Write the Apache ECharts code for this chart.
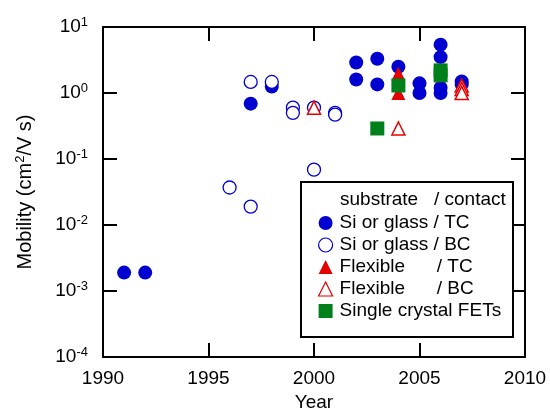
<!DOCTYPE html>
<html>
<head>
<meta charset="utf-8">
<script src="https://cdn.jsdelivr.net/npm/echarts@6/dist/echarts.min.js"></script>
<style>
  html, body { margin: 0; padding: 0; background: #fff; }
  #chart { width: 550px; height: 408px; }
</style>
</head>
<body>
<div id="chart"></div>
<script>
// [year, mobility]
const siGlassTC = [
  [1991, 0.0019], [1992, 0.0019], [1997, 0.69], [1998, 1.25],
  [2002, 2.9], [2002, 1.6], [2003, 3.3], [2003, 1.35], [2004, 2.5],
  [2005, 1.4], [2005, 1.0], [2006, 5.4], [2006, 3.5], [2006, 1.2], [2006, 1.0],
  [2007, 1.5], [2007, 1.35]
];
const siGlassBC = [
  [1996, 0.037], [1997, 0.019], [1997, 1.47], [1998, 1.47],
  [1999, 0.6], [1999, 0.5], [2000, 0.6], [2000, 0.069], [2001, 0.5], [2001, 0.47]
];
const flexibleTC = [[2004, 1.95], [2004, 1.0]];
const flexibleBC = [[2000, 0.6], [2004, 0.29], [2007, 1.3], [2007, 1.15], [2007, 1.0]];
const singleCrystal = [[2003, 0.29], [2004, 1.3], [2006, 2.2], [2006, 1.85]];

const seriesNames = [
  'Si or glass / TC',
  'Si or glass / BC',
  'Flexible      / TC',
  'Flexible      / BC',
  'Single crystal FETs'
];

const blue = '#0000d0';
const red = '#e60000';
const green = '#00801a';
const font = 'Liberation Sans, Arial, sans-serif';

const chart = echarts.init(document.getElementById('chart'));

const tickStyle = { show: true, inside: true, length: 14, lineStyle: { color: '#000', width: 2 } };
const lineStyle = { show: true, onZero: false, lineStyle: { color: '#000', width: 2 } };

// open markers get a thinner outline in the legend
const legendData = seriesNames.map((name, i) =>
  (i === 1 || i === 3) ? { name: name, itemStyle: { borderWidth: 1.2 } } : { name: name }
);

chart.setOption({
  animation: false,
  textStyle: { fontFamily: font },
  grid: { left: 103, right: 25, top: 27, bottom: 51, containLabel: false, outerBoundsMode: 'none' },
  xAxis: [
    {
      type: 'value', min: 1990, max: 2010, interval: 5,
      axisLine: lineStyle, axisTick: tickStyle, splitLine: { show: false },
      axisLabel: { color: '#000', fontSize: 19, margin: 12, fontFamily: font, formatter: v => String(v) },
      name: 'Year', nameLocation: 'middle', nameGap: 35,
      nameTextStyle: { color: '#000', fontSize: 19, fontFamily: font }
    },
    {
      type: 'value', position: 'top', min: 1990, max: 2010, interval: 5,
      axisLine: lineStyle, axisTick: tickStyle, splitLine: { show: false },
      axisLabel: { show: false }
    }
  ],
  yAxis: [
    {
      type: 'log', logBase: 10, min: 1e-4, max: 10,
      axisLine: lineStyle, axisTick: tickStyle, splitLine: { show: false },
      axisLabel: {
        margin: 15, fontFamily: font,
        formatter: v => '{b|10}{s|' + Math.round(Math.log10(v)) + '}',
        rich: {
          b: { fontSize: 19, color: '#000', fontFamily: font },
          s: { fontSize: 13, color: '#000', fontFamily: font, padding: [0, 0, 10, 0] }
        }
      },
      name: 'Mobility (cm{s|2}/V s)', nameLocation: 'middle', nameGap: 66,
      nameTextStyle: {
        color: '#000', fontSize: 20, fontFamily: font,
        rich: { s: { fontSize: 13, color: '#000', fontFamily: font, padding: [0, 0, 10, 0] } }
      }
    },
    {
      type: 'log', logBase: 10, min: 1e-4, max: 10, position: 'right',
      axisLine: lineStyle, axisTick: tickStyle, splitLine: { show: false },
      axisLabel: { show: false }
    }
  ],
  legend: {
    orient: 'vertical', left: 313, top: 207, z: 20,
    itemWidth: 14, itemHeight: 14, itemGap: 0,
    data: legendData,
    textStyle: { fontSize: 19, color: '#000', fontFamily: font, lineHeight: 22, padding: [0, 0, 0, 2] }
  },
  graphic: [
    {
      type: 'rect', z: 10,
      shape: { x: 301, y: 182, width: 212, height: 155 },
      style: { fill: '#fff', stroke: '#000', lineWidth: 2 }
    },
    {
      type: 'text', z: 21, left: 340, top: 190,
      style: { text: 'substrate   / contact', fill: '#000', font: '19px ' + font }
    }
  ],
  series: [
    {
      name: seriesNames[0], type: 'scatter', data: siGlassTC, symbol: 'circle', symbolSize: 14,
      itemStyle: { color: blue, opacity: 1 }
    },
    {
      name: seriesNames[1], type: 'scatter', data: siGlassBC, symbol: 'circle', symbolSize: 13,
      itemStyle: { color: '#fff', borderColor: blue, borderWidth: 1.3, opacity: 1 }
    },
    {
      name: seriesNames[2], type: 'scatter', data: flexibleTC, symbol: 'triangle', symbolSize: 14,
      itemStyle: { color: red, opacity: 1 }
    },
    {
      name: seriesNames[3], type: 'scatter', data: flexibleBC, symbol: 'triangle', symbolSize: 13,
      itemStyle: { color: '#fff', borderColor: red, borderWidth: 1.5, opacity: 1 }
    },
    {
      name: seriesNames[4], type: 'scatter', data: singleCrystal, symbol: 'rect', symbolSize: 14,
      itemStyle: { color: green, opacity: 1 }
    }
  ]
});
</script>
</body>
</html>
